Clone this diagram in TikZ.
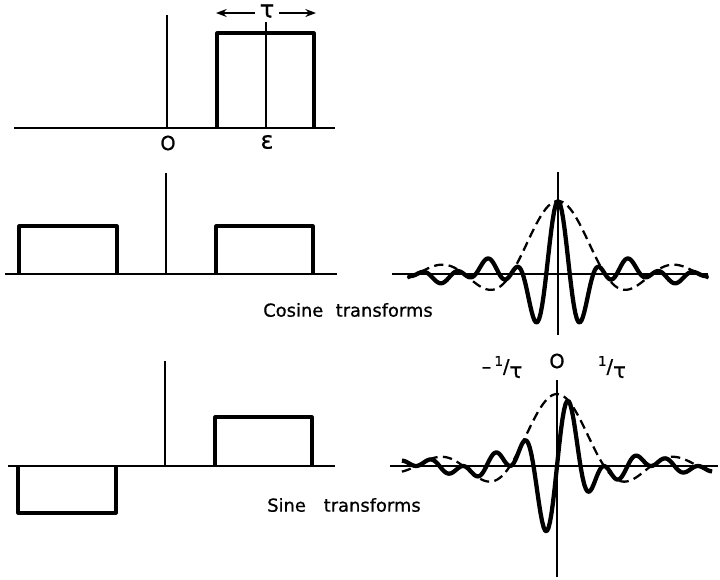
\documentclass[tikz,border=0pt]{standalone}
\usepackage{fontspec}
\setmainfont{DejaVu Sans}[FakeBold=0.8]
\usepackage{tikz}
\usetikzlibrary{arrows.meta,positioning}

\newcommand{\invtau}{\raisebox{0.7ex}{\fontsize{10}{10}\selectfont 1}/\raisebox{-0.45ex}{\fontsize{16}{16}\selectfont τ}}

\begin{document}
\begin{tikzpicture}[
  x=0.75pt, y=-0.75pt,
  axis/.style={line width=1.1pt},
  base/.style={line width=1.8pt},
  pulse/.style={line width=2.3pt, line join=round},
  envelope/.style={line width=1.7pt, dash pattern=on 7pt off 4pt},
  curve/.style={line width=3.2pt, line join=round},
  lbl/.style={font=\fontsize{14.5}{16}\selectfont, inner sep=1pt},
  greek/.style={font=\fontsize{18}{18}\selectfont, inner sep=1pt},
  caption/.style={font=\fontsize{13.4}{16}\selectfont, inner sep=0pt, anchor=west},
  arr/.style={-{Stealth[length=8pt, width=6pt]}, line width=1.1pt}
]
\useasboundingbox (0,0) rectangle (720,579);

% single pulse of width tau at epsilon
\draw[base] (14,128) -- (335,128);
\draw[axis] (167,15) -- (167,128);
\draw[axis] (266,22) -- (266,128);
\draw[pulse] (217,128) -- (217,33) -- (314,33) -- (314,128);
\node[greek] (tau) at (267,11) {τ};
\coordinate (tauL) at (216,13);
\coordinate (tauR) at (316,13);
\draw[arr] (tau.west) ++(-3,2) -- (tauL);
\draw[arr] (tau.east) ++(3,2) -- (tauR);
\node[lbl] (orig) at (168,143) {O};
\node[greek] (eps) at (267,142) {ε};

% even pair
\draw[base] (5,274) -- (337,274);
\draw[axis] (166,173) -- (166,274);
\draw[pulse] (19,274) -- (19,226) -- (117,226) -- (117,274);
\draw[pulse] (216,274) -- (216,226) -- (313,226) -- (313,274);

% odd pair
\draw[base] (8,466) -- (335,466);
\draw[axis] (165,361) -- (165,466);
\draw[pulse] (18,466) -- (18,513) -- (116,513) -- (116,466);
\draw[pulse] (215,466) -- (215,417) -- (312,417) -- (312,466);

% cosine transforms
\draw[axis] (392,274) -- (708,274);
\draw[axis] (558,172) -- (558,335);
\draw[envelope] plot[domain=-3.2:3.2, samples=200]
  ({558+47*\x}, {274-73*sin(180*\x)/(pi*\x)});
\draw[curve] plot[domain=-3.2:3.2, samples=200]
  ({558+47*\x}, {274-73*sin(180*\x)/(pi*\x)*cos(360*\x)});
\node[caption] (cosl) at (263,310) {Cosine\hspace{0.7em}transforms};

% sine transforms
\draw[axis] (390,466) -- (718,466);
\draw[axis] (557,380) -- (557,577);
\draw[envelope] plot[domain=-3.3:3.3, samples=200]
  ({557+47*\x}, {466-72*sin(180*\x)/(pi*\x)});
\draw[curve] plot[domain=-3.3:3.3, samples=200]
  ({557+47*\x}, {466-72*sin(180*\x)/(pi*\x)*sin(360*\x)});
\node[caption] (sinl) at (267,505) {Sine\hspace{1em}transforms};
\node[lbl] (zero) at (557,361) {O};
\node[lbl] (mtau) at (502,367) {–\,\invtau};
\node[lbl] (ptau) at (612,367) {\invtau};
\end{tikzpicture}
\end{document}
